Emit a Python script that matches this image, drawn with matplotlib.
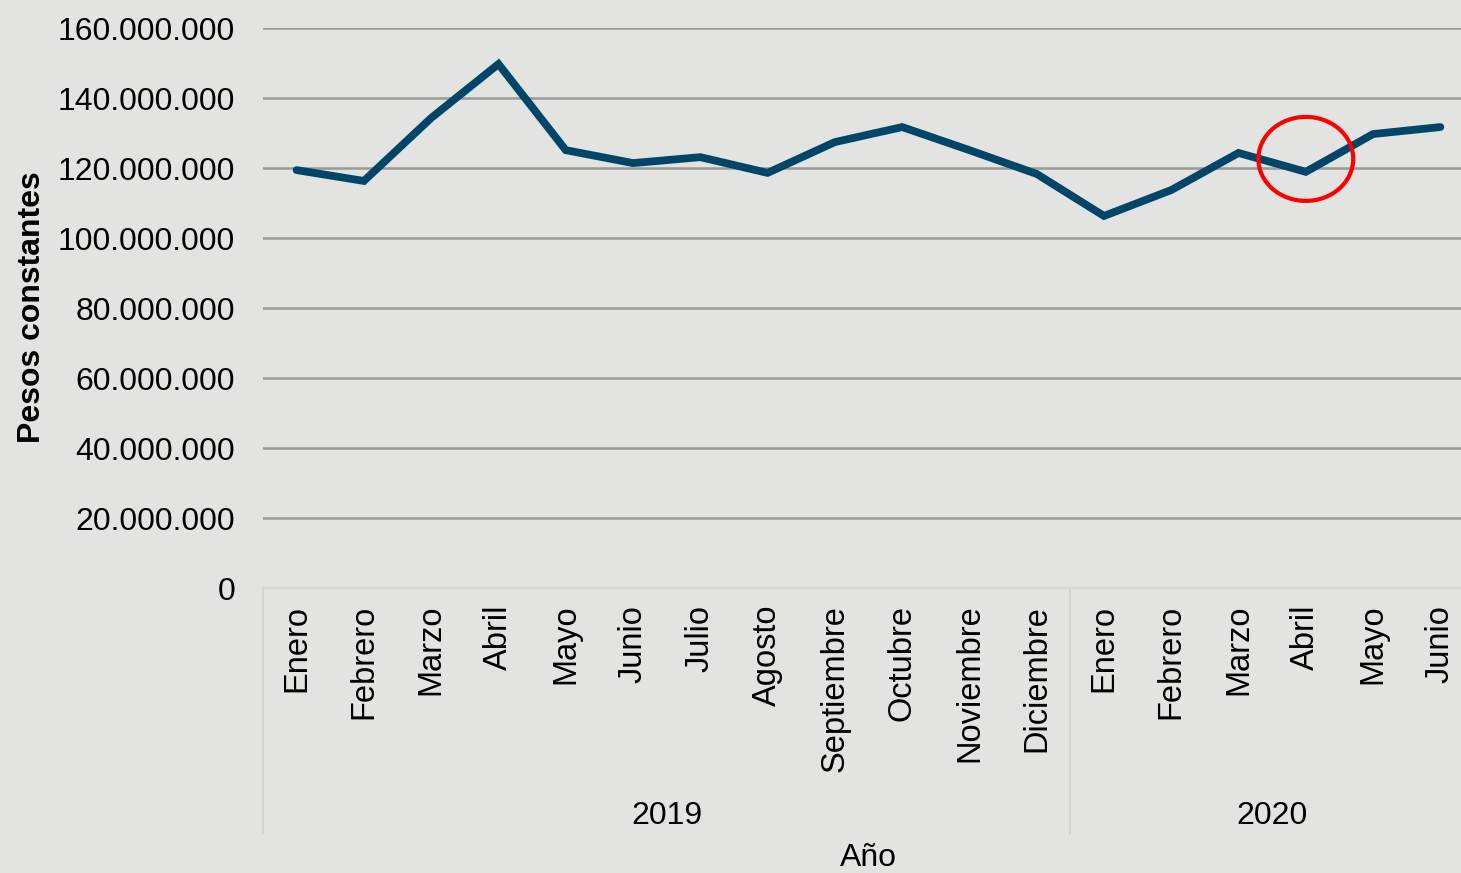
import matplotlib
matplotlib.use("Agg")
import matplotlib.pyplot as plt
from matplotlib.patches import Ellipse
from matplotlib.lines import Line2D
from matplotlib import transforms
from matplotlib.ticker import FuncFormatter

plt.rcParams['font.family'] = ['Liberation Sans', 'DejaVu Sans']

# === DATA ===
meses = ["Enero", "Febrero", "Marzo", "Abril", "Mayo", "Junio", "Julio", "Agosto",
         "Septiembre", "Octubre", "Noviembre", "Diciembre",
         "Enero", "Febrero", "Marzo", "Abril", "Mayo", "Junio"]
anios = ["2019", "2020"]
meses_por_anio = [12, 6]
valores = [119.4, 116.3, 134.3, 149.7, 125.1, 121.4, 123.1, 118.6, 127.4,
           131.7, 125.1, 118.3, 106.3, 113.7, 124.3, 118.9, 129.7, 131.7]
valores = [v * 1e6 for v in valores]
resaltado = 15  # Abril 2020

BG = "#e3e3e1"
LINE = "#004668"

fig = plt.figure(figsize=(14.61, 8.73), dpi=100, facecolor=BG)
ax = fig.add_axes([263 / 1461, 1 - 588 / 873, (1474 - 263) / 1461, 560 / 873])
ax.set_facecolor(BG)

x = list(range(len(meses)))
ax.plot(x, valores, color=LINE, lw=5.6, solid_capstyle="round", solid_joinstyle="miter", zorder=3)

# red circle around highlighted point
ax.add_patch(Ellipse((resaltado, 122.6e6), 1.41, 24e6, fill=False,
                     edgecolor="#ff0000", lw=3, zorder=4))

ax.set_xlim(-0.5, len(meses) - 0.5)
ax.set_ylim(0, 160e6)
ax.set_yticks([i * 20e6 for i in range(9)])
ax.yaxis.set_major_formatter(FuncFormatter(lambda v, p: f"{int(v):,}".replace(",", ".")))
ax.grid(axis="y", color="#999999", lw=1.8)
ax.set_axisbelow(True)
for s in ["top", "right", "left"]:
    ax.spines[s].set_visible(False)
ax.spines["bottom"].set_color("#d6d6d4")
ax.spines["bottom"].set_linewidth(1.6)
ax.tick_params(axis="y", length=0, pad=20, labelsize=23)
ax.tick_params(axis="x", length=0, pad=12, labelsize=23.5)
ax.set_xticks(x)
ax.set_xticklabels(meses, rotation=90, va="top", ha="center")

fig.text(32 / 1461, 1 - 307 / 873, "Pesos constantes", fontsize=23, fontweight="bold",
         rotation=90, ha="center", va="center")

# group separators and year labels
trans = transforms.blended_transform_factory(ax.transData, fig.transFigure)
y_top = 1 - 588 / 873
y_bot = 1 - 833 / 873
start = -0.5
for anio, n in zip(anios, meses_por_anio):
    ax.add_line(Line2D([start, start], [y_top, y_bot], transform=trans, color="#d3d3d1",
                       lw=1.6, clip_on=False))
    ax.text(start + n / 2, 1 - 816 / 873, anio, transform=trans, ha="center", va="center",
            fontsize=23)
    start += n

fig.text((263 + 1474) / 2 / 1461, 1 - 858 / 873, "Año", ha="center", va="center", fontsize=23)

fig.savefig("out.png", dpi=100, facecolor=BG)
